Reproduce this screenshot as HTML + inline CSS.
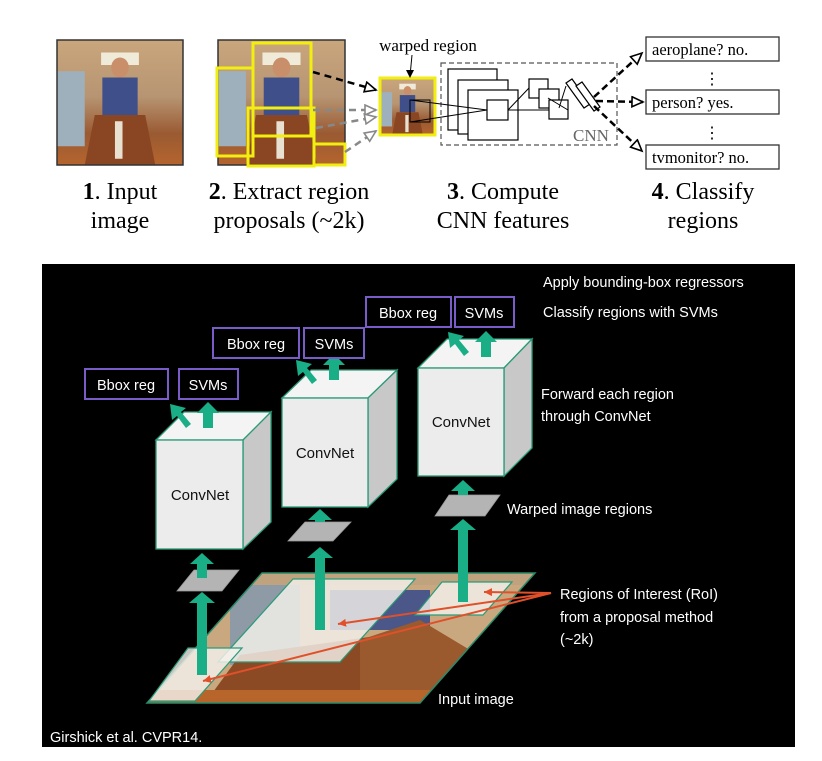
<!DOCTYPE html>
<html><head><meta charset="utf-8"><style>
html,body{margin:0;padding:0;background:#fff;width:822px;height:761px;overflow:hidden}
svg{display:block}
.s{font-family:"Liberation Serif",serif;fill:#000}
.c{font-family:"Liberation Sans",sans-serif;fill:#fff;font-size:14.5px}
</style></head><body>
<svg width="822" height="761" viewBox="0 0 822 761" xmlns="http://www.w3.org/2000/svg">
<defs>
<linearGradient id="ph" x1="0" y1="0" x2="0" y2="1">
<stop offset="0" stop-color="#c9a67c"/><stop offset="0.45" stop-color="#b79573"/><stop offset="0.75" stop-color="#9a5a32"/><stop offset="1" stop-color="#b5652e"/></linearGradient>
<g id="photo">
<rect x="0" y="0" width="100" height="100" fill="url(#ph)"/>
<rect x="0" y="25" width="22" height="60" fill="#9fb0bd"/>
<rect x="35" y="10" width="30" height="10" fill="#f0ead8"/>
<ellipse cx="50" cy="22" rx="7" ry="8" fill="#c98f6b"/>
<rect x="36" y="30" width="28" height="30" fill="#3f4f8a"/>
<path d="M30 60 L70 60 L78 100 L22 100 Z" fill="#8a4622"/>
<rect x="46" y="65" width="6" height="30" fill="#e8e0d0"/>
</g>
<marker id="oa" markerUnits="userSpaceOnUse" markerWidth="14" markerHeight="14" refX="12" refY="6" orient="auto"><path d="M1 1 L12 6 L1 11 Z" fill="#fff" stroke="#000" stroke-width="1.6"/></marker>
<marker id="og" markerUnits="userSpaceOnUse" markerWidth="14" markerHeight="14" refX="12" refY="6" orient="auto"><path d="M1 1 L12 6 L1 11 Z" fill="#fff" stroke="#888" stroke-width="1.6"/></marker>
<marker id="ra" markerUnits="userSpaceOnUse" markerWidth="10" markerHeight="10" refX="8" refY="4" orient="auto"><path d="M0 0 L8 4 L0 8 Z" fill="#e0502a"/></marker>
</defs>

<!-- TOP -->
<g transform="translate(57,40) scale(1.26,1.25)"><use href="#photo"/></g>
<rect x="57" y="40" width="126" height="125" fill="none" stroke="#333" stroke-width="1.5"/>
<g transform="translate(218,40) scale(1.27,1.25)"><use href="#photo"/></g>
<rect x="218" y="40" width="127" height="125" fill="none" stroke="#333" stroke-width="1.5"/>
<g fill="none" stroke="#f2ee10" stroke-width="3">
<rect x="253" y="43" width="58" height="93"/>
<rect x="217" y="68" width="36" height="88"/>
<rect x="248" y="108" width="66" height="58"/>
<rect x="314" y="144" width="31" height="21"/>
</g>
<g transform="translate(380,78) scale(0.55,0.57)"><use href="#photo"/></g>
<rect x="380" y="78" width="55" height="57" fill="none" stroke="#f2ee10" stroke-width="3"/>
<text x="428" y="51" class="s" font-size="17" text-anchor="middle">warped region</text>
<line x1="412" y1="55" x2="410" y2="76" stroke="#000"/><path d="M406 70 L410 78 L414 70" fill="#000"/>
<line x1="313" y1="72" x2="376" y2="90" stroke="#000" stroke-width="2.5" stroke-dasharray="7,5" marker-end="url(#oa)"/>
<line x1="313" y1="110" x2="376" y2="110" stroke="#888" stroke-width="2.5" stroke-dasharray="7,5" marker-end="url(#og)"/>
<line x1="316" y1="128" x2="376" y2="117" stroke="#888" stroke-width="2.5" stroke-dasharray="7,5" marker-end="url(#og)"/>
<line x1="345" y1="152" x2="376" y2="131" stroke="#888" stroke-width="2.5" stroke-dasharray="7,5" marker-end="url(#og)"/>
<rect x="441" y="63" width="176" height="82" fill="none" stroke="#555" stroke-width="1.2" stroke-dasharray="5,3"/>
<g fill="#fff" stroke="#000" stroke-width="1.2">
<rect x="448" y="69" width="49" height="61"/>
<rect x="458" y="80" width="50" height="54"/>
<rect x="468" y="90" width="50" height="50"/>
<rect x="487" y="100" width="21" height="20"/>
<rect x="529" y="79" width="19" height="19"/>
<rect x="539" y="89" width="20" height="19"/>
<rect x="549" y="100" width="19" height="19"/>
<path d="M566 83 L572 79 L590 104 L584 108 Z"/>
<path d="M576 86 L582 82 L600 107 L594 111 Z"/>
</g>
<g stroke="#000" stroke-width="1" fill="none">
<path d="M410 100 L487 110 L410 122"/><path d="M508 110 L529 88 M508 110 L549 110 M548 98 L568 110 M559 108 L566 86"/>
</g>
<rect x="410" y="100" width="20" height="22" fill="none" stroke="#000"/>
<text x="591" y="141" class="s" font-size="17" text-anchor="middle" style="fill:#666">CNN</text>
<line x1="594" y1="97" x2="642" y2="53" stroke="#000" stroke-width="2.5" stroke-dasharray="7,4" marker-end="url(#oa)"/>
<line x1="596" y1="101" x2="643" y2="102" stroke="#000" stroke-width="2.5" stroke-dasharray="7,4" marker-end="url(#oa)"/>
<line x1="594" y1="106" x2="642" y2="151" stroke="#000" stroke-width="2.5" stroke-dasharray="7,4" marker-end="url(#oa)"/>
<g fill="#fff" stroke="#333" stroke-width="1.3">
<rect x="646" y="37" width="133" height="24"/><rect x="646" y="90" width="133" height="24"/><rect x="646" y="145" width="133" height="24"/>
</g>
<text x="652" y="55" class="s" font-size="16.5">aeroplane? no.</text>
<text x="652" y="108" class="s" font-size="16.5">person? yes.</text>
<text x="652" y="163" class="s" font-size="16.5">tvmonitor? no.</text>
<text x="712" y="84" class="s" font-size="16" text-anchor="middle">⋮</text>
<text x="712" y="138" class="s" font-size="16" text-anchor="middle">⋮</text>
<g class="s" font-size="24" text-anchor="middle">
<text x="120" y="199"><tspan font-weight="bold">1</tspan>. Input</text><text x="120" y="228">image</text>
<text x="289" y="199"><tspan font-weight="bold">2</tspan>. Extract region</text><text x="289" y="228">proposals (~2k)</text>
<text x="503" y="199"><tspan font-weight="bold">3</tspan>. Compute</text><text x="503" y="228">CNN features</text>
<text x="703" y="199"><tspan font-weight="bold">4</tspan>. Classify</text><text x="703" y="228">regions</text>
</g>

<!-- BOTTOM -->
<rect x="42" y="264" width="753" height="483" fill="#000"/>
<text x="543" y="287" class="c">Apply bounding-box regressors</text>
<text x="543" y="317" class="c">Classify regions with SVMs</text>
<text x="541" y="399" class="c">Forward each region</text>
<text x="541" y="421" class="c">through ConvNet</text>
<text x="507" y="514" class="c">Warped image regions</text>
<text x="560" y="599" class="c">Regions of Interest (RoI)</text>
<text x="560" y="622" class="c">from a proposal method</text>
<text x="560" y="644" class="c">(~2k)</text>
<text x="438" y="704" class="c">Input image</text>
<text x="50" y="742" class="c">Girshick et al. CVPR14.</text>

<clipPath id="pc"><path d="M262 573 L535 573 L420 703 L147 703 Z"/></clipPath>
<g clip-path="url(#pc)">
<rect x="140" y="570" width="400" height="140" fill="#c9a880"/>
<rect x="140" y="570" width="400" height="15" fill="#bfa27e"/>
<rect x="230" y="585" width="70" height="80" fill="#8e9aa6"/>
<rect x="330" y="590" width="100" height="40" fill="#4b5788"/>
<path d="M240 655 L420 630 L440 710 L200 710 Z" fill="#8c4a24"/>
<path d="M360 640 L420 620 L470 650 L430 710 L360 710 Z" fill="#9b5a2e"/>
<rect x="140" y="690" width="300" height="20" fill="#b8652c"/>
</g>
<path d="M262 573 L535 573 L420 703 L147 703 Z" fill="none" stroke="#2a8a6a" stroke-width="1.5"/>
<g fill="#f4f1ec" fill-opacity="0.82" stroke="#2a9a78" stroke-width="1.2">
<path d="M293 579 L415 579 L340 662 L218 662 Z"/>
<path d="M442 582 L512 582 L483 615 L415 615 Z"/>
<path d="M188 648 L242 648 L195 701 L149 701 Z"/>
</g>

<g stroke="#e0502a" stroke-width="2" fill="none">
<line x1="551" y1="593" x2="484" y2="592" marker-end="url(#ra)"/>
<line x1="551" y1="593" x2="338" y2="624" marker-end="url(#ra)"/>
<line x1="551" y1="593" x2="203" y2="681" marker-end="url(#ra)"/>
</g>

<g fill="#b4b4b4" stroke="#999" stroke-width="0.8">
<path d="M194 570 L239 570 L222 591 L177 591 Z"/>
<path d="M305 522 L351 522 L333 541 L288 541 Z"/>
<path d="M449 495 L500 495 L485 516 L435 516 Z"/>
</g>

<g fill="#1aae87">
<path d="M197 675 L197 603 L189 603 L202 592 L215 603 L207 603 L207 675 Z"/>
<path d="M315 630 L315 558 L307 558 L320 547 L333 558 L325 558 L325 630 Z"/>
<path d="M458 602 L458 530 L450 530 L463 519 L476 530 L468 530 L468 602 Z"/>
<path d="M197 578 L197 564 L190 564 L202 553 L214 564 L207 564 L207 578 Z"/>
<path d="M315 522 L315 520 L308 520 L320 509 L332 520 L325 520 L325 522 Z"/>
<path d="M458 495 L458 491 L451 491 L463 480 L475 491 L468 491 L468 495 Z"/>
</g>

<g stroke="#2a9a78" stroke-width="1.3">
<path d="M156 440 L184 412 L271 412 L243 440 Z" fill="#f4f4f4"/>
<path d="M243 440 L271 412 L271 522 L243 549 Z" fill="#c8c8c8"/>
<rect x="156" y="440" width="87" height="109" fill="#ececec"/>
<path d="M282 398 L311 370 L397 370 L368 398 Z" fill="#f4f4f4"/>
<path d="M368 398 L397 370 L397 479 L368 507 Z" fill="#c8c8c8"/>
<rect x="282" y="398" width="86" height="109" fill="#ececec"/>
<path d="M418 368 L447 339 L532 339 L504 368 Z" fill="#f4f4f4"/>
<path d="M504 368 L532 339 L532 448 L504 476 Z" fill="#c8c8c8"/>
<rect x="418" y="368" width="86" height="108" fill="#ececec"/>
</g>
<g font-family="Liberation Sans,sans-serif" font-size="15" fill="#111" text-anchor="middle">
<text x="200" y="500">ConvNet</text><text x="325" y="458">ConvNet</text><text x="461" y="427">ConvNet</text>
</g>

<g fill="#1aae87">
<path d="M203 428 L203 413 L197 413 L208 402 L219 413 L213 413 L213 428 Z"/>
<path d="M186 428 L177 416 L172 420 L170 404 L186 408 L181 412 L191 424 Z"/>
<path d="M329 380 L329 365 L323 365 L334 354 L345 365 L339 365 L339 380 Z"/>
<path d="M312 384 L303 372 L298 376 L296 360 L312 364 L307 368 L317 380 Z"/>
<path d="M481 357 L481 342 L475 342 L486 331 L497 342 L491 342 L491 357 Z"/>
<path d="M464 356 L455 344 L450 348 L448 332 L464 336 L459 340 L469 352 Z"/>
</g>

<g fill="#000" stroke="#7a5cc8" stroke-width="2">
<rect x="85" y="369" width="83" height="30"/><rect x="179" y="369" width="59" height="30"/>
<rect x="213" y="328" width="86" height="30"/><rect x="304" y="328" width="60" height="30"/>
<rect x="366" y="297" width="85" height="30"/><rect x="455" y="297" width="59" height="30"/>
</g>
<g class="c" font-size="15" text-anchor="middle">
<text x="126" y="390">Bbox reg</text><text x="208" y="390">SVMs</text>
<text x="256" y="349">Bbox reg</text><text x="334" y="349">SVMs</text>
<text x="408" y="318">Bbox reg</text><text x="484" y="318">SVMs</text>
</g>
</svg>
</body></html>
